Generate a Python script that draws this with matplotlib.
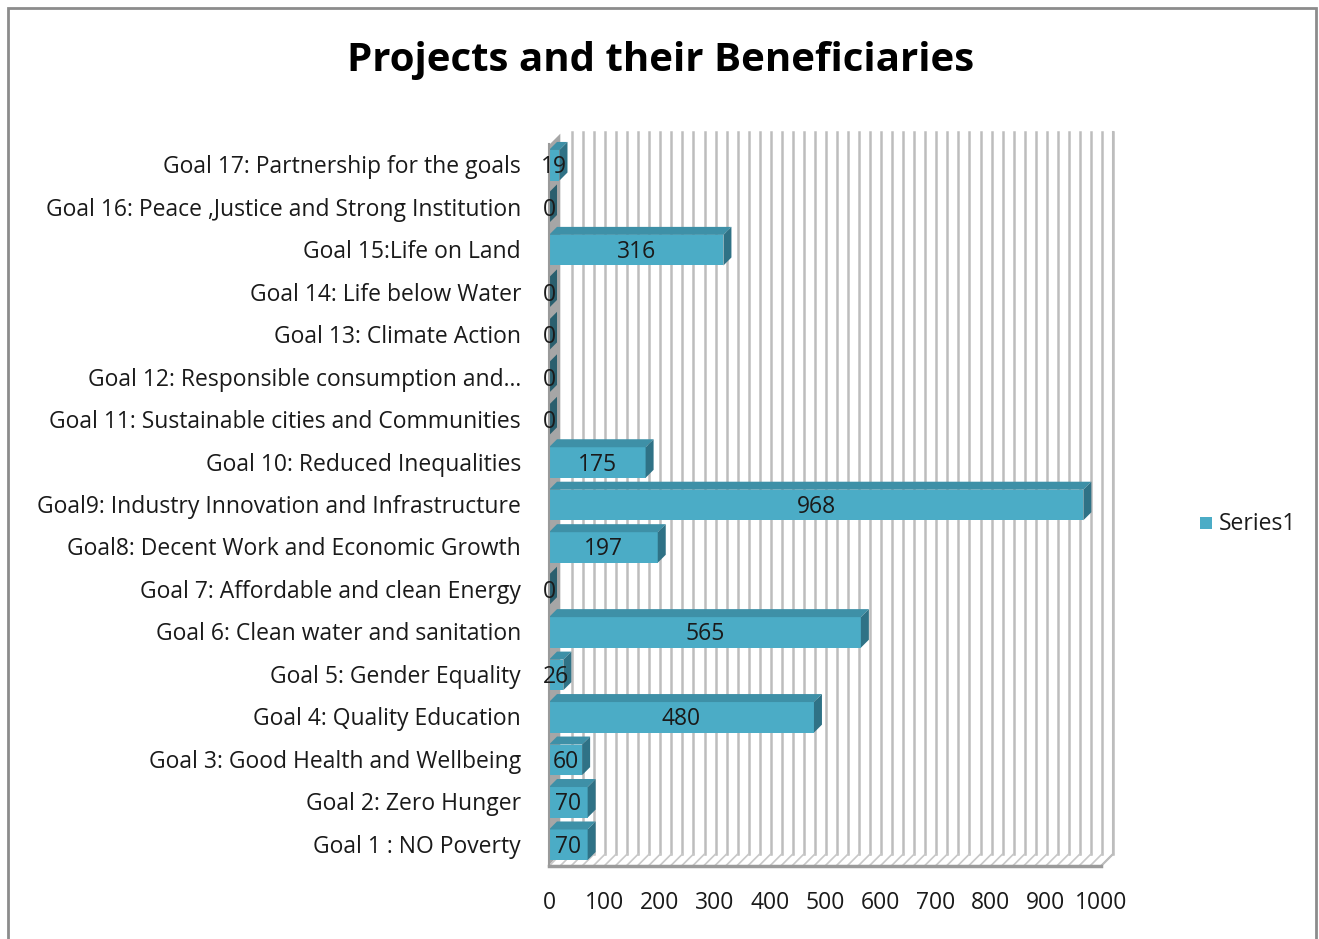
import matplotlib
matplotlib.use("Agg")
import matplotlib.pyplot as plt
from matplotlib.patches import Polygon, Rectangle
from matplotlib.lines import Line2D
from matplotlib.transforms import IdentityTransform

categories = [
    "Goal 1 : NO Poverty",
    "Goal 2: Zero Hunger",
    "Goal 3: Good Health and Wellbeing",
    "Goal 4: Quality Education",
    "Goal 5: Gender Equality",
    "Goal 6: Clean water and sanitation",
    "Goal 7: Affordable and clean Energy",
    "Goal8: Decent Work and Economic Growth",
    "Goal9: Industry Innovation and Infrastructure",
    "Goal 10: Reduced Inequalities",
    "Goal 11: Sustainable cities and Communities",
    "Goal 12: Responsible consumption and\u2026",
    "Goal 13: Climate Action",
    "Goal 14: Life below Water",
    "Goal 15:Life on Land",
    "Goal 16: Peace ,Justice and Strong Institution",
    "Goal 17: Partnership for the goals",
]
values = [70, 70, 60, 480, 26, 565, 0, 197, 968, 175, 0, 0, 0, 0, 316, 0, 19]
xticks = [0, 100, 200, 300, 400, 500, 600, 700, 800, 900, 1000]
series_name = "Series1"
title = "Projects and their Beneficiaries"

plt.rcParams['font.family'] = ['Open Sans', 'DejaVu Sans']

W, H = 1319, 939
fig = plt.figure(figsize=(W / 100, H / 100), dpi=100)
ax = fig.add_axes([549 / W, 1 - 866 / H, 552 / W, 722 / H])
ax.set_xlim(0, 1000)
ax.set_ylim(-0.5, len(values) - 0.5)
ax.axis('off')

ident = IdentityTransform()
D = 12   # wall depth in pixels
d = 8    # bar depth in pixels

front = '#4BACC6'
top_c = '#3E90A7'
side_c = '#2F7286'
zero_c = '#2A5F6E'
txt = '#1a1a1a'
fs = 16.5


def px(x, y):
    return ax.transData.transform((x, y))


def poly(pts, color, z, ec='none', lw=0):
    p = Polygon(pts, closed=True, facecolor=color, edgecolor=ec, lw=lw,
                transform=ident, zorder=z, clip_on=False)
    ax.add_artist(p)


y0 = -0.5
y1 = len(values) - 0.5
x0f, yb = px(0, y0)
x1f, yt = px(1000, y1)

# left wall
poly([(x0f, yb), (x0f + D, yb + D), (x0f + D, yt + D), (x0f, yt)], '#A6A6A6', 1,
     ec='white', lw=1)

# back wall gridlines and floor lines
for g in range(0, 1001, 20):
    gx, _ = px(g, y0)
    if g > 0:
        ax.add_artist(Line2D([gx + D, gx + D], [yb + D, yt + D], color='#BDBDBD', lw=1.8,
                             transform=ident, zorder=2, clip_on=False))
    ax.add_artist(Line2D([gx, gx + D], [yb, yb + D], color='#C8C8C8', lw=1.2,
                         transform=ident, zorder=2, clip_on=False))
ax.add_artist(Line2D([x1f, x1f + D, x1f + D], [yb, yb + D, yt + D], color='#BDBDBD', lw=1.5,
                     transform=ident, zorder=2, clip_on=False))
ax.add_artist(Line2D([x0f, x1f], [yb, yb], color='#9A9A9A', lw=2.5,
                     transform=ident, zorder=6, clip_on=False))
ax.add_artist(Line2D([x0f, x0f], [yb, yt], color='#9A9A9A', lw=1.5,
                     transform=ident, zorder=6, clip_on=False))

# bars
h = 0.36
for i, v in enumerate(values):
    xl, b = px(0, i - h)
    xr, t = px(v, i + h)
    if v > 0:
        poly([(xl, b), (xr, b), (xr, t), (xl, t)], front, 5)
        poly([(xl, t), (xr, t), (xr + d, t + d), (xl + d, t + d)], top_c, 5)
        poly([(xr, b), (xr + d, b + d), (xr + d, t + d), (xr, t)], side_c, 5)
    else:
        poly([(xr, b), (xr + d, b + d), (xr + d, t + d), (xr, t)], zero_c, 5)
    ax.annotate(str(v), xy=(v / 2, i), xycoords='data', xytext=(0, -2),
                textcoords='offset pixels', ha='center', va='center', fontsize=fs,
                color=txt, zorder=8)

# category labels
for i, c in enumerate(categories):
    ax.annotate(c, xy=(0, i), xycoords='data', xytext=(-28, -2), textcoords='offset pixels',
                ha='right', va='center', fontsize=fs, color=txt)

# x tick labels
for t in xticks:
    ax.annotate(str(t), xy=(t, y0), xycoords='data', xytext=(0, -37), textcoords='offset pixels',
                ha='center', va='center', fontsize=fs, color=txt)

fig.text(661 / W, 1 - 61 / H, title, ha='center', va='center', fontsize=29,
         fontweight='bold', color='black')

# legend
fig.patches.append(Rectangle((1200 / W, 1 - 529 / H), 12 / W, 12 / H, facecolor=front,
                             edgecolor='none', transform=fig.transFigure, figure=fig))
fig.text(1219 / W, 1 - 524 / H, series_name, ha='left', va='center', fontsize=fs,
         color=txt)

# outer border
fig.patches.append(Rectangle((8 / W, -0.01), 1308 / W, 1 - 8 / H + 0.01, facecolor='none',
                             edgecolor='#8C8C8C', lw=2, transform=fig.transFigure, figure=fig))

fig.savefig('out.png', dpi=100)
